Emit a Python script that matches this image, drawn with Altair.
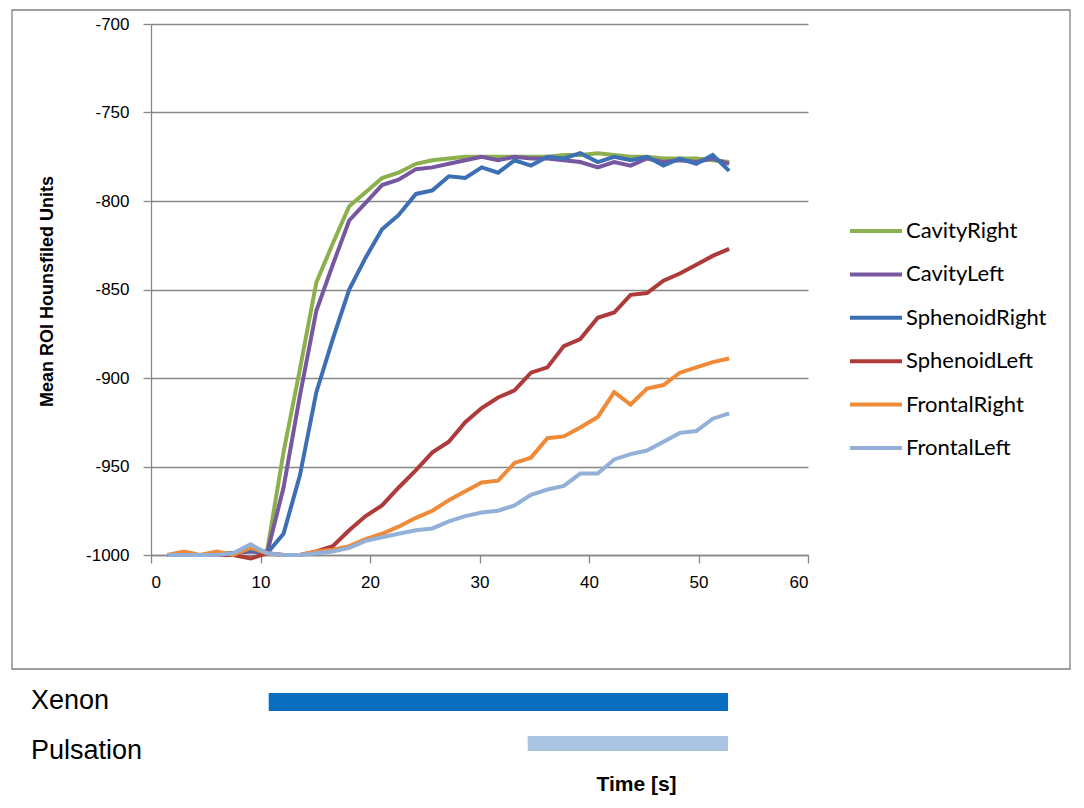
import altair as alt
import pandas as pd

times = [1.5, 3.0, 4.5, 6.0, 7.5, 9.1, 10.6, 12.1, 13.6, 15.1, 16.6, 18.1, 19.6, 21.1,
         22.6, 24.2, 25.7, 27.2, 28.7, 30.2, 31.7, 33.2, 34.7, 36.2, 37.7, 39.2, 40.8,
         42.3, 43.8, 45.3, 46.8, 48.3, 49.8, 51.3, 52.8]

series_names = ["CavityRight", "CavityLeft", "SphenoidRight", "SphenoidLeft",
                "FrontalRight", "FrontalLeft"]
series_colors = ["#8DB04F", "#7757A0", "#3C6FB3", "#AE3A3A", "#EF8B38", "#93B0D8"]

cavity_right = [-1000, -1000, -1000, -999, -999, -997, -998, -942, -895, -846, -824, -803,
                -795, -787, -784, -779, -777, -776, -775, -775, -775, -775, -775, -775,
                -774, -774, -773, -774, -775, -775, -776, -776, -776, -777, -778]
cavity_left = [-1000, -1000, -1000, -1000, -999, -998, -999, -962, -910, -862, -836, -811,
               -801, -791, -788, -782, -781, -779, -777, -775, -777, -775, -776, -776,
               -777, -778, -781, -778, -780, -776, -778, -777, -778, -776, -779]
sphenoid_right = [-1000, -1000, -1000, -1000, -999, -997, -999, -988, -955, -908, -878, -850,
                  -832, -816, -808, -796, -794, -786, -787, -781, -784, -777, -780, -775,
                  -776, -773, -778, -775, -777, -775, -780, -776, -779, -774, -783]
sphenoid_left = [-1000, -1000, -1000, -1000, -1000, -1002, -999, -1000, -1000, -998, -995,
                 -986, -978, -972, -962, -952, -942, -936, -925, -917, -911, -907, -897,
                 -894, -882, -878, -866, -863, -853, -852, -845, -841, -836, -831, -827]
frontal_right = [-1000, -998, -1000, -998, -1000, -996, -999, -1000, -1000, -998, -997,
                 -995, -991, -988, -984, -979, -975, -969, -964, -959, -958, -948, -945,
                 -934, -933, -928, -922, -908, -915, -906, -904, -897, -894, -891, -889]
frontal_left = [-1000, -1000, -1000, -1000, -999, -994, -999, -1000, -1000, -999, -998,
                -996, -992, -990, -988, -986, -985, -981, -978, -976, -975, -972, -966,
                -963, -961, -954, -954, -946, -943, -941, -936, -931, -930, -923, -920]

x_ticks = [0, 10, 20, 30, 40, 50, 60]
y_ticks = [-1000, -950, -900, -850, -800, -750, -700]

phase_labels = ["Xenon", "Pulsation"]
phase_start = [10.75, 34.4]
phase_end = [52.7, 52.7]
phase_colors = ["#0A6EC0", "#A9C3E0"]

all_series = [cavity_right, cavity_left, sphenoid_right, sphenoid_left,
              frontal_right, frontal_left]
rows = []
for name, vals in zip(series_names, all_series):
    for t, v in zip(times, vals):
        rows.append({"t": t, "v": v, "series": name})
df = pd.DataFrame(rows)

phases = pd.DataFrame({"label": phase_labels, "start": phase_start, "end": phase_end})

GRID = "#878787"
W, H = 657, 531

x_enc = alt.X(
    "t:Q",
    scale=alt.Scale(domain=[0, 60], nice=False),
    axis=alt.Axis(values=x_ticks, grid=False, title="Time [s]", titleX=485, titleY=229,
                  titleAlign="center", titleBaseline="middle", titleFont="Liberation Sans",
                  titleFontSize=21, titleFontWeight="bold", titleColor="#000",
                  labelFont="Liberation Sans", labelFontSize=17, labelColor="#000",
                  labelExpr="'' + datum.value",
                  labelPadding=11, tickSize=8, tickColor=GRID, domainColor=GRID,
                  domainWidth=1.3, tickWidth=1.3),
)

lines = alt.Chart(df).mark_line(strokeWidth=4).encode(
    x=x_enc,
    y=alt.Y(
        "v:Q",
        scale=alt.Scale(domain=[-1000, -700], nice=False),
        axis=alt.Axis(values=y_ticks, grid=True, gridColor=GRID, gridWidth=1.3,
                      title="Mean ROI Hounsfiled Units", titleX=-104, titleY=267,
                      titleAngle=-90, titleAlign="center", titleBaseline="middle",
                      titleFont="Liberation Sans", titleFontSize=18,
                      titleFontWeight="bold", titleColor="#000",
                      labelFont="Liberation Sans", labelFontSize=17, labelColor="#000",
                      labelExpr="'' + datum.value",
                      labelPadding=14, tickSize=8, tickColor=GRID, domainColor=GRID,
                      domainWidth=1.3, tickWidth=1.3),
    ),
    color=alt.Color(
        "series:N",
        scale=alt.Scale(domain=series_names, range=series_colors),
        legend=alt.Legend(title=None, orient="none", legendX=697, legendY=179,
                          symbolType="stroke", symbolSize=2704, symbolStrokeWidth=4,
                          labelFont="Lato", labelFontSize=22, labelColor="#000",
                          labelOffset=2, rowPadding=4.4, padding=0),
    ),
)

box = alt.Chart(pd.DataFrame({"k": [0]})).mark_rect(
    fill="white", fillOpacity=0, stroke="#808080", strokeWidth=1.3
).encode(x=alt.value(-139), x2=alt.value(919), y=alt.value(-14), y2=alt.value(645))

xenon_bar = alt.Chart(phases).transform_filter(alt.datum.label == "Xenon").mark_rect(
    color=phase_colors[0]
).encode(x="start:Q", x2="end:Q", y=alt.value(669), y2=alt.value(687))

puls_bar = alt.Chart(phases).transform_filter(alt.datum.label == "Pulsation").mark_rect(
    color=phase_colors[1]
).encode(x="start:Q", x2="end:Q", y=alt.value(712), y2=alt.value(727))

xenon_txt = alt.Chart(phases).transform_filter(alt.datum.label == "Xenon").mark_text(
    align="left", baseline="middle", font="Liberation Sans", fontSize=27, color="#000"
).encode(text="label:N", x=alt.value(-120), y=alt.value(677))

puls_txt = alt.Chart(phases).transform_filter(alt.datum.label == "Pulsation").mark_text(
    align="left", baseline="middle", font="Liberation Sans", fontSize=27, color="#000"
).encode(text="label:N", x=alt.value(-120), y=alt.value(727))

chart = alt.layer(box, lines, xenon_bar, puls_bar, xenon_txt, puls_txt).properties(
    width=W, height=H,
    autosize=alt.AutoSizeParams(type="none"),
    padding={"left": 143, "top": 16, "right": 268, "bottom": 248},
    background="white",
).configure_view(stroke=None)

chart.save("out.html", embed_options={"renderer": "svg", "actions": False})
